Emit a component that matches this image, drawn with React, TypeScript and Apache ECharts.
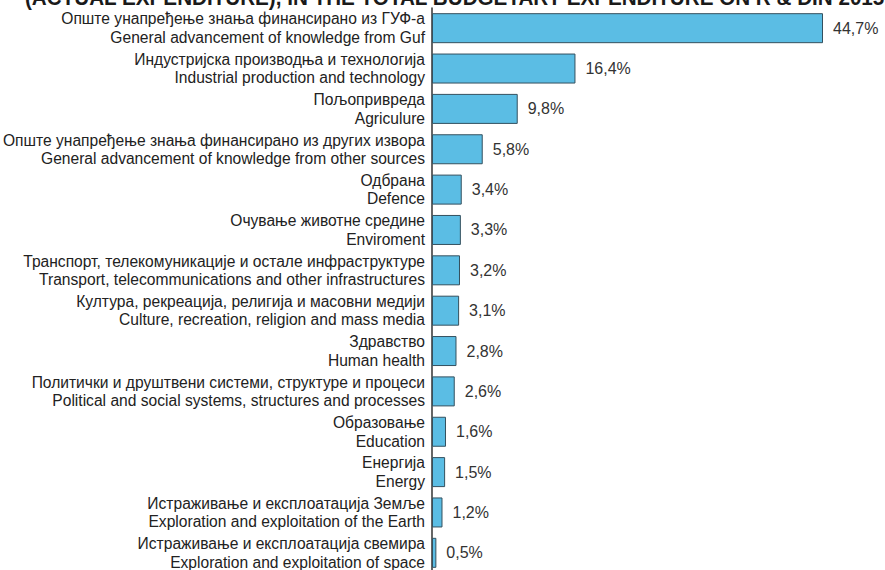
import React, { useEffect, useRef } from "react";
import * as echarts from "echarts";

const titleText = "(ACTUAL EXPENDITURE), IN THE TOTAL BUDGETARY EXPENDITURE ON R & DIN 2015";

const categoriesSr = [
  "Опште унапређење знања финансирано из ГУФ-а",
  "Индустријска производња и технологија",
  "Пољопривреда",
  "Опште унапређење знања финансирано из других извора",
  "Одбрана",
  "Очување животне средине",
  "Транспорт, телекомуникације и остале инфраструктуре",
  "Култура, рекреација, религија и масовни медији",
  "Здравство",
  "Политички и друштвени системи, структуре и процеси",
  "Образовање",
  "Енергија",
  "Истраживање и експлоатација Земље",
  "Истраживање и експлоатација свемира",
];

const categoriesEn = [
  "General advancement of knowledge from Guf",
  "Industrial production and technology",
  "Agriculure",
  "General advancement of knowledge from other sources",
  "Defence",
  "Enviroment",
  "Transport, telecommunications and other infrastructures",
  "Culture, recreation, religion and mass media",
  "Human health",
  "Political and social systems, structures and processes",
  "Education",
  "Energy",
  "Exploration and exploitation of the Earth",
  "Exploration and exploitation of space",
];

const values = [44.7, 16.4, 9.8, 5.8, 3.4, 3.3, 3.2, 3.1, 2.8, 2.6, 1.6, 1.5, 1.2, 0.5];

export default function App() {
  const ref = useRef<HTMLDivElement>(null);
  useEffect(() => {
    if (!ref.current) return;
    const chart = echarts.init(ref.current, undefined, { renderer: "svg" });
    const cats = categoriesSr.map((s, i) => s + "\n" + categoriesEn[i]);
    chart.setOption({
      animation: false,
      textStyle: { fontFamily: "Liberation Sans, Arial, sans-serif" },
      graphic: [
        {
          type: "text",
          x: 25,
          y: -14,
          scaleX: 0.898,
          style: {
            text: titleText,
            font: "bold 23px 'Liberation Sans', Arial, sans-serif",
            fill: "#1a1a1a",
          },
        },
      ],
      grid: {
        left: 432,
        top: 8,
        width: (391 * 50) / 44.7,
        height: 565,
        containLabel: false,
        outerBoundsMode: "none",
      },
      xAxis: {
        type: "value",
        min: 0,
        max: 50,
        show: false,
      },
      yAxis: {
        type: "category",
        inverse: true,
        data: cats,
        axisLine: { show: true, lineStyle: { color: "#333", width: 1.5 } },
        axisTick: { show: false },
        axisLabel: {
          margin: 7,
          color: "#222",
          fontSize: 15.6,
          lineHeight: 18.5,
          align: "right",
          fontFamily: "Liberation Sans, Arial, sans-serif",
        },
      },
      series: [
        {
          type: "bar",
          data: values,
          barWidth: 30,
          itemStyle: { color: "#5bbde4", borderColor: "#34505e", borderWidth: 1 },
          label: {
            show: true,
            position: "right",
            distance: 10,
            fontSize: 16,
            color: "#333",
            fontFamily: "Liberation Sans, Arial, sans-serif",
            formatter: (p: any) => String(p.value).replace(".", ",") + "%",
          },
        },
      ],
    });
    return () => chart.dispose();
  }, []);
  return (
    <div
      ref={ref}
      style={{ position: "absolute", left: 0, top: 0, width: 885, height: 570, background: "#fff" }}
    />
  );
}
